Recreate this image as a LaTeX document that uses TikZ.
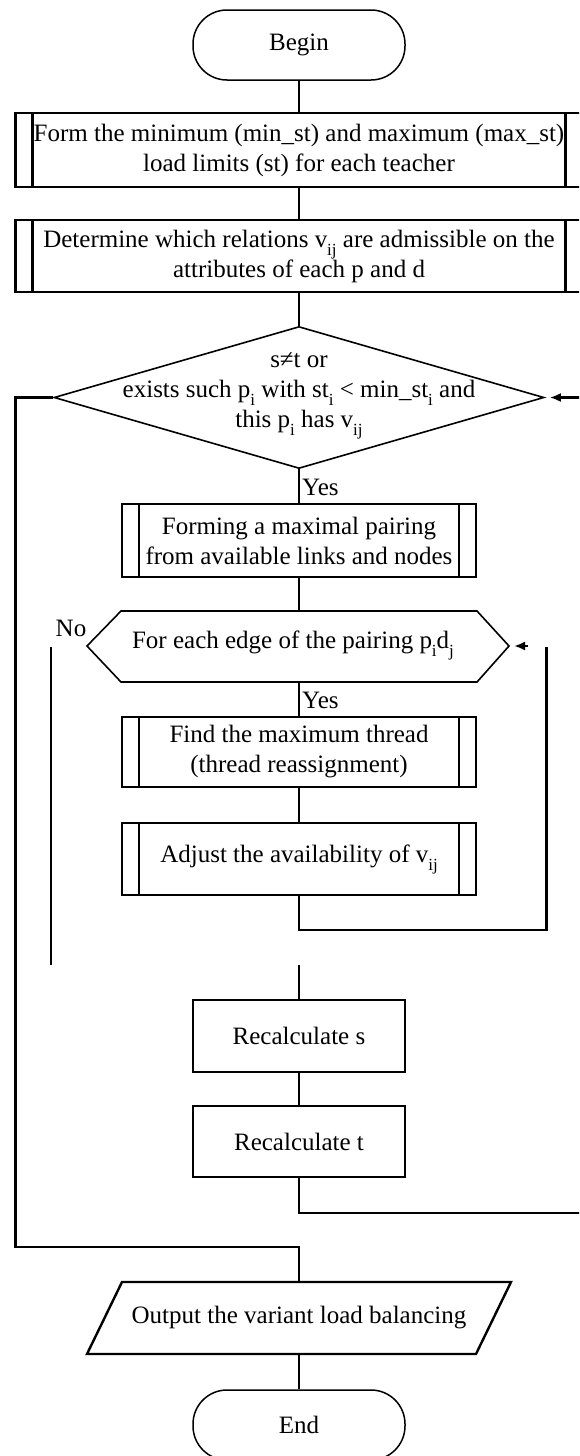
\documentclass[tikz,border=0pt]{standalone}
\usepackage{fontspec}
\setmainfont{Liberation Serif}
\usetikzlibrary{arrows.meta,shapes.geometric}
\newcommand\sbs[1]{\raisebox{-0.32em}{\fontsize{17}{17}\selectfont #1}}
\begin{document}
\begin{tikzpicture}[x=1pt,y=-1pt,
  every node/.style={font=\fontsize{25}{30}\selectfont, inner sep=0pt, align=center},
  conn/.style={line width=2.6pt},
  term/.style={draw, line width=1.5pt, rounded corners=34pt, minimum width=212pt, minimum height=70pt},
  procbox/.style={draw, line width=2.4pt, minimum height=72pt},
  predef/.style={procbox, path picture={
     \draw[line width=2.4pt] ([xshift=17pt]path picture bounding box.north west) -- ([xshift=17pt]path picture bounding box.south west);
     \draw[line width=2.4pt] ([xshift=-17pt]path picture bounding box.north east) -- ([xshift=-17pt]path picture bounding box.south east);}},
  outline/.style={draw, line width=1.6pt, line join=miter},
  lbl/.style={anchor=west}
]
\useasboundingbox (0,0) rectangle (579,1456);
\clip (0,0) rectangle (579,1456);

% nodes
\node[term] (begin) at (299,45) {Begin};
\node[predef, minimum width=567pt, minimum height=74pt] (b1) at (299,150)
  {Form the minimum (min\_st) and maximum (max\_st)\\load limits (st) for each teacher};
\node[predef, minimum width=567pt] (b2) at (299,256)
  {Determine which relations v\sbs{ij} are admissible on the\\attributes of each p and d};

\node[diamond, outline, minimum width=490pt, minimum height=142pt] (dec) at (299,397.5) {};
\node (dtext) at (299,396) {s≠t or\\exists such p\sbs{i} with st\sbs{i} < min\_st\sbs{i} and\\this p\sbs{i} has v\sbs{ij}};
\node[lbl] (yes1) at (302,487) {Yes};

\node[predef, minimum width=354pt, minimum height=73pt] (b3) at (299,540.5)
  {Forming a maximal pairing\\from available links and nodes};

\coordinate (hL) at (87,646);
\coordinate (hR) at (509,646);
\coordinate (hT) at (299,611);
\coordinate (hB) at (299,682);
\draw[outline] (hL) -- (121,611) -- (477,611) -- (hR) -- (477,682) -- (121,682) -- cycle;
\node (htext) at (293,646) {For each edge of the pairing p\sbs{i}d\sbs{j}};
\node (no) at (71,628) {No};
\node[lbl] (yes2) at (302,700) {Yes};

\node[predef, minimum width=354pt, minimum height=70pt] (b4) at (299,752)
  {Find the maximum thread\\(thread reassignment)};
\node[predef, minimum width=354pt] (b5) at (299,859)
  {Adjust the availability of v\sbs{ij}};

\node[procbox, minimum width=212pt] (rs) at (299,1036) {Recalculate s};
\node[procbox, minimum width=212pt, minimum height=71pt] (rt) at (299,1141.5) {Recalculate t};

\coordinate (oT) at (299,1282);
\coordinate (oB) at (299,1354);
\draw[line width=2.4pt, line join=miter] (122,1282) -- (511,1282) -- (476,1354) -- (87,1354) -- cycle;
\node (out) at (299,1318) {Output the variant load balancing};

\node[term] (end) at (299,1425) {End};

% connectors
\draw[conn] (begin.south) -- (b1.north);
\draw[conn] (b1.south) -- (b2.north);
\draw[conn] (b2.south) -- (dec.north);
\draw[conn] (dec.south) -- (b3.north);
\draw[conn] (b3.south) -- (hT);
\draw[conn] (hB) -- (b4.north);
\draw[conn] (b4.south) -- (b5.north);

\coordinate (loopA) at (299,930);
\coordinate (loopB) at (546.7,930);
\coordinate (loopC) at (546.7,647);
\draw[conn] (b5.south) -- (loopA) -- (loopB) -- (loopC);
\coordinate (arrS) at (528,646);
\draw[conn, -{Latex[length=11pt,width=9pt]}, shorten >=5pt] (arrS) -- (hR);

\coordinate (noA) at (51,647);
\coordinate (noB) at (51,965);
\draw[conn] (noA) -- (noB);

\coordinate (rsA) at (299,965);
\draw[conn] (rsA) -- (rs.north);
\draw[conn] (rs.south) -- (rt.north);

\coordinate (rA) at (299,1213);
\coordinate (rB) at (582.5,1213);
\coordinate (rC) at (582.5,397.5);
\draw[conn, -{Latex[length=11pt,width=9pt]}, shorten >=5pt] (rt.south) -- (rA) -- (rB) -- (rC) -- (dec.east);

\coordinate (lA) at (15.5,397.5);
\coordinate (lB) at (15.5,1247);
\coordinate (lC) at (299,1247);
\draw[conn] (dec.west) -- (lA) -- (lB) -- (lC) -- (oT);

\draw[conn] (oB) -- (end.north);
\end{tikzpicture}
\end{document}
